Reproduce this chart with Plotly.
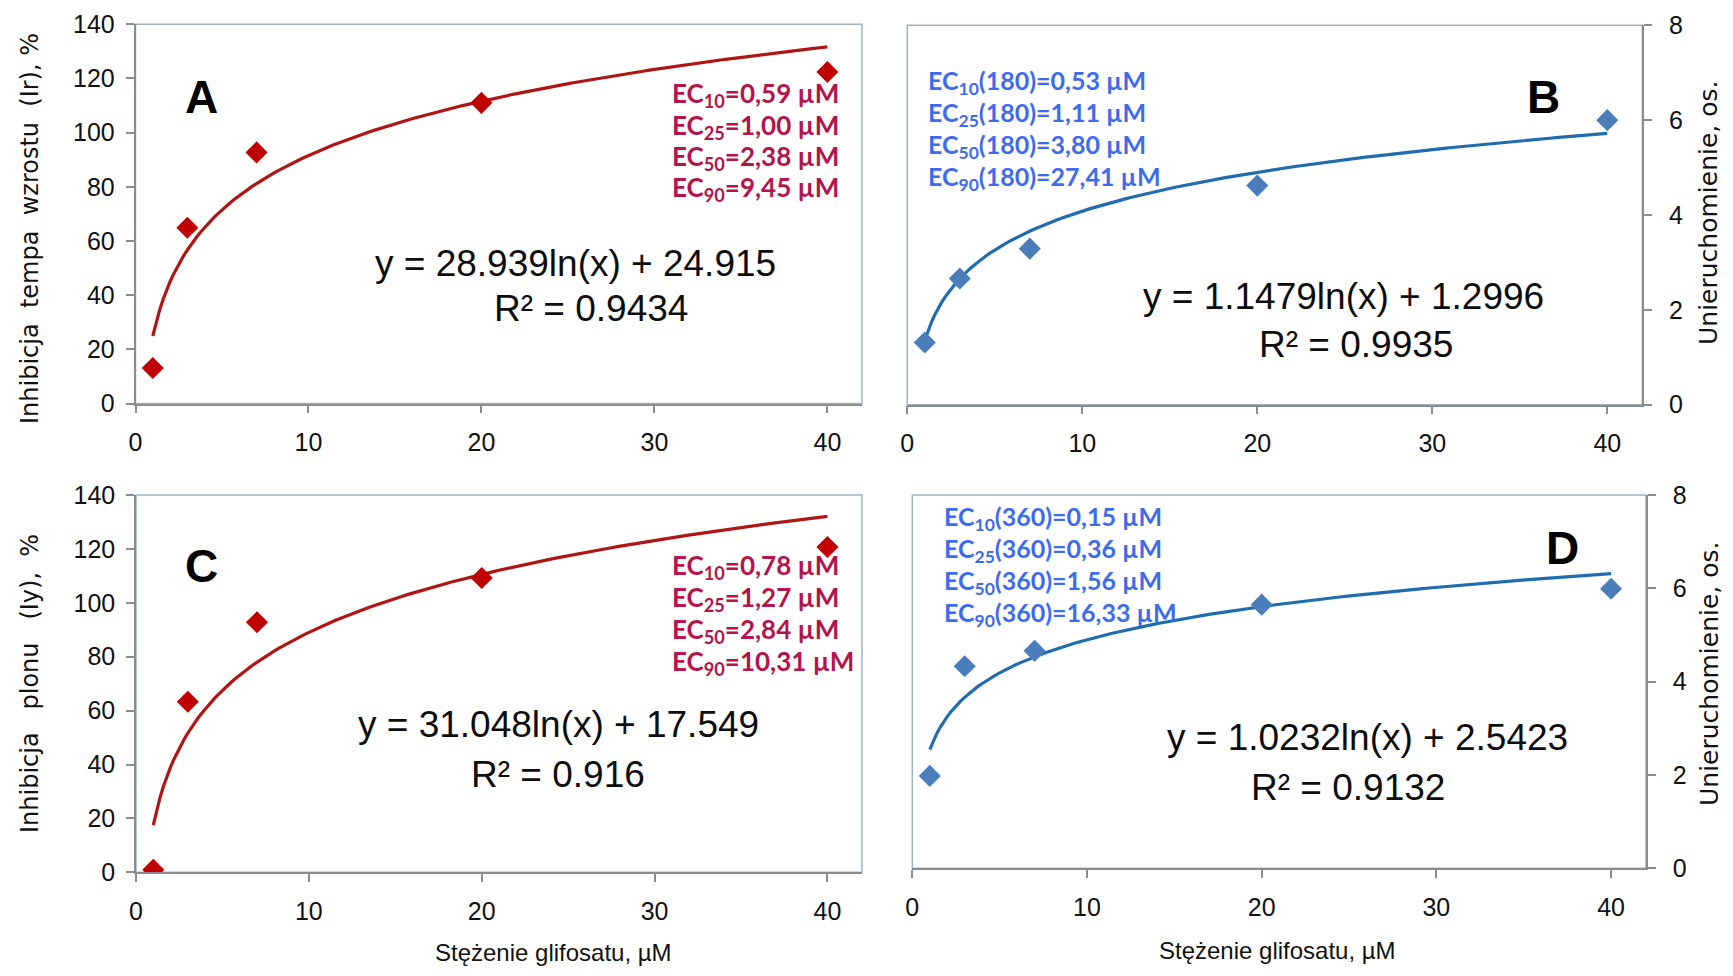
import numpy as np
import plotly.graph_objects as go

# ---------------- data ----------------
conc = [1, 3, 7, 20, 40]                       # glyphosate concentration, µM
inhib_growth = [13.1, 64.9, 92.7, 111.0, 122.4]   # panel A, %
immob_180 = [1.31, 2.66, 3.29, 4.62, 6.0]         # panel B
inhib_yield = [0.9, 63.3, 92.8, 109.2, 120.7]     # panel C, %
immob_360 = [1.98, 4.33, 4.66, 5.65, 5.99]        # panel D

# log trend-line coefficients printed on the chart (y = a ln(x) + b)
trend_a = [28.939, 1.1479, 31.048, 1.0232]
trend_b = [24.915, 1.2996, 17.549, 2.5423]
r2_text = ["0.9434", "0.9935", "0.916", "0.9132"]
# coefficients of the trend curves as they are actually drawn in the picture
# (panel B's drawn curve sits slightly above its printed equation)
curve_a = [28.939, 1.182, 31.048, 1.0232]
curve_b = [24.915, 1.36, 17.549, 2.5423]

ec_A = ["EC<sub>10</sub>=0,59 µM", "EC<sub>25</sub>=1,00 µM",
        "EC<sub>50</sub>=2,38 µM", "EC<sub>90</sub>=9,45 µM"]
ec_B = ["EC<sub>10</sub>(180)=0,53 µM", "EC<sub>25</sub>(180)=1,11 µM",
        "EC<sub>50</sub>(180)=3,80 µM", "EC<sub>90</sub>(180)=27,41 µM"]
ec_C = ["EC<sub>10</sub>=0,78 µM", "EC<sub>25</sub>=1,27 µM",
        "EC<sub>50</sub>=2,84 µM", "EC<sub>90</sub>=10,31 µM"]
ec_D = ["EC<sub>10</sub>(360)=0,15 µM", "EC<sub>25</sub>(360)=0,36 µM",
        "EC<sub>50</sub>(360)=1,56 µM", "EC<sub>90</sub>(360)=16,33 µM"]

x_ticks = [0, 10, 20, 30, 40]
y_ticks_pct = [0, 20, 40, 60, 80, 100, 120, 140]
y_ticks_os = [0, 2, 4, 6, 8]

# ---------------- style ----------------
PAGE_W, PAGE_H = 1733, 976
OFF = 8                      # default body margin of the html page
W, H = PAGE_W - 2 * OFF, PAGE_H - 2 * OFF
RED_M = "#C00000"
RED_L = "#B01515"
RED_T = "#B3144C"
BLUE_M = "#4A7EBB"
BLUE_L = "#1F6CAE"
BLUE_T = "#3D6BEF"
AXIS = "#8C8C8C"
BORDER = "#9FB4C2"
TICKFONT = dict(family="Liberation Sans, Arial, sans-serif", size=25, color="#111111")
EQFONT = dict(family="Liberation Sans, Arial, sans-serif", size=37, color="#0d0d0d")
TITLEFONT = dict(family="DejaVu Sans, sans-serif", size=24, color="#111111")
XTFONT = dict(family="Liberation Sans, Arial, sans-serif", size=24, color="#111111")
ECFONT_SIZE = 26
LETTERFONT = dict(family="Liberation Sans, Arial, sans-serif", size=46, color="black")
NB = "\u00a0"


def px(xpix):
    return (xpix - OFF) / W


def py(ypix):
    return 1 - (ypix - OFF) / H


domains = {
    "A": ([px(135.5), px(862)], [py(403.5), py(24.3)]),
    "B": ([px(907.3), px(1642.3)], [py(404.7), py(25.3)]),
    "C": ([px(136), px(862)], [py(872.3), py(495)]),
    "D": ([px(912.3), px(1646)], [py(868.3), py(495)]),
}

fig = go.Figure()

panels = [
    ("A", "x", "y", inhib_growth, RED_M, RED_L, 0),
    ("B", "x2", "y2", immob_180, BLUE_M, BLUE_L, 1),
    ("C", "x3", "y3", inhib_yield, RED_M, RED_L, 2),
    ("D", "x4", "y4", immob_360, BLUE_M, BLUE_L, 3),
]

for name, xa, ya, vals, mcol, lcol, i in panels:
    xs = np.linspace(min(conc), max(conc), 200)
    ys = curve_a[i] * np.log(xs) + curve_b[i]
    fig.add_trace(go.Scatter(x=xs, y=ys, mode="lines", xaxis=xa, yaxis=ya,
                             line=dict(color=lcol, width=3.2), showlegend=False,
                             hoverinfo="skip"))
    fig.add_trace(go.Scatter(x=conc, y=vals, mode="markers", xaxis=xa, yaxis=ya,
                             marker=dict(symbol="diamond", size=17, color=mcol),
                             showlegend=False))

axis_common = dict(showgrid=False, zeroline=False, showline=True, linecolor=AXIS,
                   linewidth=1.5, ticks="outside", ticklen=8, tickcolor=AXIS,
                   tickwidth=1.5, tickfont=TICKFONT, automargin=False)

layout = dict(width=W, height=H, autosize=False,
              margin=dict(l=0, r=0, t=0, b=0),
              paper_bgcolor="white", plot_bgcolor="white", showlegend=False)

keys = [("A", "xaxis", "yaxis", "x", "y"), ("B", "xaxis2", "yaxis2", "x2", "y2"),
        ("C", "xaxis3", "yaxis3", "x3", "y3"), ("D", "xaxis4", "yaxis4", "x4", "y4")]
for name, xk, yk, xa, ya in keys:
    xd, yd = domains[name]
    layout[xk] = dict(axis_common, domain=xd, range=[0, 42], tickvals=x_ticks,
                      anchor=ya, ticklabelstandoff=8)
    if name in ("A", "C"):
        layout[yk] = dict(axis_common, domain=yd, range=[0, 140], tickvals=y_ticks_pct,
                          anchor=xa, side="left", ticklabelstandoff=6)
    else:
        layout[yk] = dict(axis_common, domain=yd, range=[0, 8], tickvals=y_ticks_os,
                          anchor=xa, side="right", ticklabelstandoff=12)

fig.update_layout(**layout)

# plot-area borders (light blue-grey)
for name, xk, yk, xa, ya in keys:
    fig.add_shape(type="rect", xref=f"{xa} domain", yref=f"{ya} domain",
                  x0=0, x1=1, y0=0, y1=1, line=dict(color=BORDER, width=1.5),
                  layer="below")

ann = []
# axis titles
ann.append(dict(text="Inhibicja  tempa  wzrostu  (Ir), %", x=px(30), y=py(229), textangle=-90,
                font=TITLEFONT))
ann.append(dict(text=f"Inhibicja{NB*3}plonu{NB*3}(Iy),{NB*2}%", x=px(30), y=py(684), textangle=-90,
                font=TITLEFONT))
ann.append(dict(text="Unieruchomienie, os.", x=px(1709), y=py(213), textangle=-90,
                font=dict(TITLEFONT, size=25)))
ann.append(dict(text="Unieruchomienie, os.", x=px(1709), y=py(674), textangle=-90,
                font=dict(TITLEFONT, size=25)))
ann.append(dict(text="Stężenie glifosatu, µM", x=px(553), y=0, yanchor="bottom", font=XTFONT))
ann.append(dict(text="Stężenie glifosatu, µM", x=px(1277), y=py(950), font=XTFONT))

# panel letters
for lab, (lx, ly) in zip("ABCD", [(201, 97), (1543, 97), (201, 566), (1562, 548)]):
    ann.append(dict(text=f"<b>{lab}</b>", x=px(lx), y=py(ly), font=LETTERFONT))

# equations
eqs = [((575, 263), (591, 309)), ((1343, 296), (1356, 344)),
       ((558, 724), (558, 774)), ((1367, 737), (1348, 787))]
for i, ((ex, ey), (rx, ry)) in enumerate(eqs):
    ann.append(dict(text=f"y = {trend_a[i]}ln(x) + {trend_b[i]}", x=px(ex), y=py(ey), font=EQFONT))
    ann.append(dict(text=f"R² = {r2_text[i]}", x=px(rx), y=py(ry), font=EQFONT))

# EC labels
ec_sets = [(ec_A, RED_T, 670, [94, 126, 157, 189], ECFONT_SIZE),
           (ec_B, BLUE_T, 926, [82, 114, 146, 178], ECFONT_SIZE - 1),
           (ec_C, RED_T, 670, [566, 598, 630, 662], ECFONT_SIZE),
           (ec_D, BLUE_T, 942, [518, 550, 582, 614], ECFONT_SIZE - 1)]
for texts, col, x0, ys, fs in ec_sets:
    for t, yy in zip(texts, ys):
        ann.append(dict(text=f"<b>{t}</b>", x=px(x0), y=py(yy), xanchor="left",
                        font=dict(family="Lato, Liberation Sans, sans-serif",
                                  size=fs, color=col)))

for a in ann:
    a.setdefault("xanchor", "center")
    a.setdefault("yanchor", "middle")
    a.update(xref="paper", yref="paper", showarrow=False)
    fig.add_annotation(**a)

fig.write_html("out.html", config={"displayModeBar": False})
